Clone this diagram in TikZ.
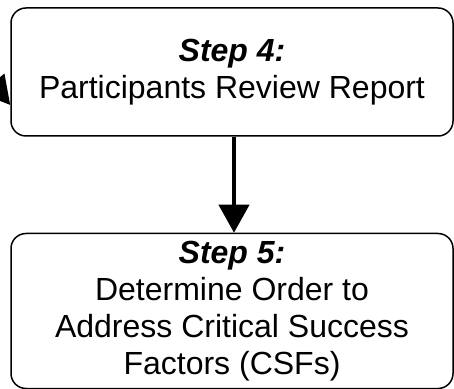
\documentclass[tikz,border=0pt]{standalone}
\usepackage{fontspec}
\setmainfont{Liberation Sans}
\usetikzlibrary{positioning,arrows.meta}

\begin{document}
\begin{tikzpicture}[x=1pt,y=1pt,
    stepbox/.style={draw=black, line width=1.5pt, rounded corners=15pt,
        minimum width=442pt, align=center, inner sep=0pt,
        font=\fontsize{32}{37}\selectfont},
    flow/.style={line width=4pt, -{Triangle[length=28pt,width=30pt]}}]
    \useasboundingbox (0,0) rectangle (454,388);

    % the two steps
    \node[stepbox, minimum height=128pt] (stepfour) at (232,316)
        {\textbf{\textit{Step 4:}}\\Participants Review Report};
    \node[stepbox, minimum height=155pt, below=96pt of stepfour] (stepfive)
        {\textbf{\textit{Step 5:}}\\Determine Order to\\Address Critical Success\\Factors (CSFs)};

    \draw[flow] ([xshift=2pt]stepfour.south) -- ([xshift=2pt]stepfive.north);

    % incoming arrow from the previous step (cut off)
    \coordinate (prev) at (-40,344);
    \draw[flow] (prev) -- ([yshift=-33pt]stepfour.west);
\end{tikzpicture}
\end{document}
